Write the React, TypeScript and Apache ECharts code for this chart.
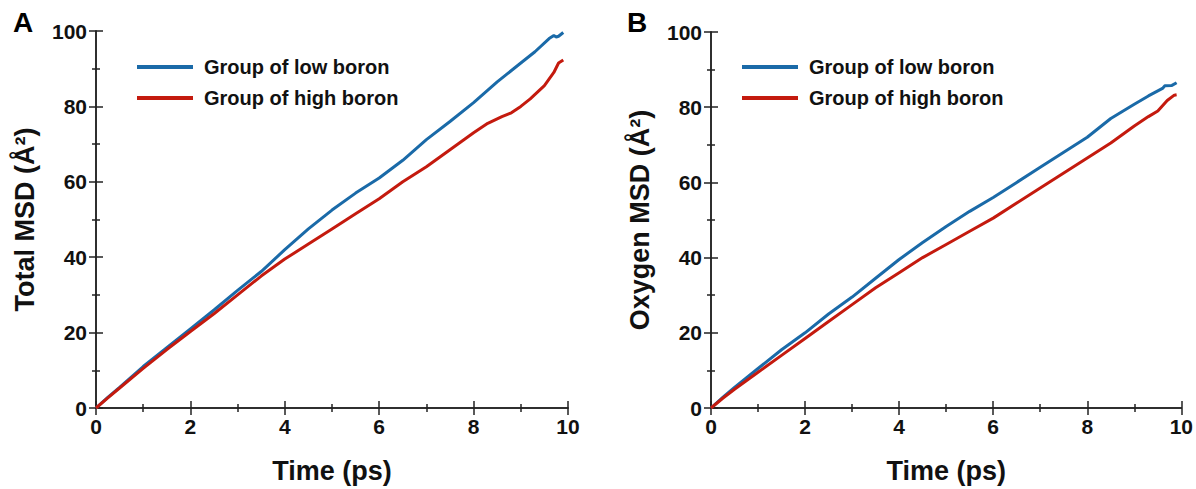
import React, { useEffect, useRef } from "react";
import * as echarts from "echarts";

const seriesNames = ["Group of low boron", "Group of high boron"];
const xTicks = [0, 2, 4, 6, 8, 10];
const yTicks = [0, 20, 40, 60, 80, 100];

// Panel A: Total MSD
const totalLow: [number, number][] = [
  [0, 0], [0.25, 2.8], [0.5, 5.5], [1, 11], [1.5, 16], [2, 21], [2.5, 26], [3, 31.2],
  [3.5, 36.2], [4, 42], [4.5, 47.5], [5, 52.5], [5.5, 57], [6, 61], [6.5, 65.7],
  [7, 71.2], [7.5, 76], [8, 81], [8.5, 86.5], [9, 91.5], [9.3, 94.5], [9.6, 98],
  [9.7, 98.8], [9.75, 98.4], [9.8, 98.6], [9.9, 99.6],
];
const totalHigh: [number, number][] = [
  [0, 0], [0.25, 2.7], [0.5, 5.3], [1, 10.5], [1.5, 15.5], [2, 20.3], [2.5, 25], [3, 30],
  [3.5, 35], [4, 39.5], [4.5, 43.5], [5, 47.5], [5.5, 51.5], [6, 55.5], [6.5, 60],
  [7, 64], [7.5, 68.5], [8, 73], [8.3, 75.5], [8.6, 77.3], [8.8, 78.3], [9, 80],
  [9.2, 82], [9.5, 85.5], [9.7, 89], [9.8, 91.5], [9.9, 92.3],
];

// Panel B: Oxygen MSD
const oxygenLow: [number, number][] = [
  [0, 0], [0.25, 2.8], [0.5, 5.5], [1, 10.5], [1.5, 15.5], [2, 20], [2.5, 25], [3, 29.5],
  [3.5, 34.5], [4, 39.5], [4.5, 44], [5, 48.3], [5.5, 52.3], [6, 56], [6.5, 60],
  [7, 64], [7.5, 68], [8, 72], [8.5, 77], [9, 80.8], [9.3, 83], [9.6, 85],
  [9.65, 85.7], [9.8, 85.8], [9.9, 86.5],
];
const oxygenHigh: [number, number][] = [
  [0, 0], [0.25, 2.6], [0.5, 5], [1, 9.5], [1.5, 14], [2, 18.5], [2.5, 23], [3, 27.5],
  [3.5, 32], [4, 36], [4.5, 40], [5, 43.5], [5.5, 47], [6, 50.5], [6.5, 54.5],
  [7, 58.5], [7.5, 62.5], [8, 66.5], [8.5, 70.5], [9, 75], [9.3, 77.5], [9.5, 79],
  [9.7, 81.8], [9.85, 83.2], [9.9, 83.3],
];

const panelLabels = ["A", "B"];
const yTitles = ["Total MSD (Å²)", "Oxygen MSD (Å²)"];
const xTitle = "Time (ps)";

const BLUE = "#1a6aa8";
const RED = "#c41a0e";
const AX = "#222";
const FONT = "Liberation Sans, Arial, sans-serif";

export default function App() {
  const ref = useRef<HTMLDivElement>(null);

  useEffect(() => {
    if (!ref.current) return;
    const chart = echarts.init(ref.current, null, { renderer: "svg" });

    const grids = [
      { left: 96, top: 31, width: 472, height: 381 },
      { left: 711, top: 32, width: 472, height: 381 },
    ];

    const axisLine = { show: true, lineStyle: { color: AX, width: 1.5 } };
    const tick = { show: true, inside: true, length: 7, lineStyle: { color: AX, width: 1.5 } };
    const minor = { show: true, splitNumber: 2, length: 4, lineStyle: { color: AX, width: 1.5 } };

    const xAxis: any[] = [];
    const yAxis: any[] = [];
    grids.forEach((_, i) => {
      xAxis.push({
        type: "value", gridIndex: i, position: "bottom", min: xTicks[0], max: xTicks[xTicks.length - 1],
        interval: 2, axisLine, axisTick: tick, minorTick: minor, splitLine: { show: false },
        axisLabel: { show: true, margin: 8, color: "#111", fontSize: 21, fontWeight: "bold", fontFamily: FONT },
        name: xTitle, nameLocation: "middle", nameGap: 49,
        nameTextStyle: { fontSize: 27, fontWeight: "bold", color: "#111", fontFamily: FONT },
      });
      xAxis.push({
        type: "value", gridIndex: i, position: "top", min: 0, max: 10, interval: 2,
        axisLine, axisTick: tick, minorTick: minor, splitLine: { show: false }, axisLabel: { show: false },
      });
      yAxis.push({
        type: "value", gridIndex: i, position: "left", min: yTicks[0], max: yTicks[yTicks.length - 1],
        interval: 20, axisLine, axisTick: tick, minorTick: minor, splitLine: { show: false },
        axisLabel: { show: true, margin: 9, color: "#111", fontSize: 21, fontWeight: "bold", fontFamily: FONT },
        name: yTitles[i], nameLocation: "middle", nameGap: 58, nameRotate: 90,
        nameTextStyle: { fontSize: 27, fontWeight: "bold", color: "#111", fontFamily: FONT },
      });
      yAxis.push({
        type: "value", gridIndex: i, position: "right", min: 0, max: 100, interval: 20,
        axisLine, axisTick: tick, minorTick: minor, splitLine: { show: false }, axisLabel: { show: false },
      });
    });

    const mk = (name: string, data: [number, number][], color: string, gi: number) => ({
      type: "line", name, data, xAxisIndex: gi * 2, yAxisIndex: gi * 2, showSymbol: false,
      symbol: "none", lineStyle: { color, width: 3 }, itemStyle: { color }, z: name === seriesNames[0] ? 2 : 3,
    });

    const legendBase = {
      orient: "vertical", icon: "rect", itemWidth: 56, itemHeight: 4, itemGap: 9,
      data: seriesNames,
      textStyle: { fontSize: 20, fontWeight: "bold", color: "#111", fontFamily: FONT, lineHeight: 22, padding: [0, 0, 0, 6] },
      selectedMode: false,
    };

    chart.setOption({
      animation: false,
      grid: grids,
      xAxis,
      yAxis,
      legend: [
        { ...legendBase, left: 132, top: 51 },
        { ...legendBase, left: 737, top: 51 },
      ],
      series: [
        mk(seriesNames[1], totalHigh, RED, 0),
        mk(seriesNames[0], totalLow, BLUE, 0),
        mk(seriesNames[1], oxygenHigh, RED, 1),
        mk(seriesNames[0], oxygenLow, BLUE, 1),
      ],
      graphic: [
        { type: "text", left: 13, top: 8, style: { text: panelLabels[0], fontSize: 28, fontWeight: "bold", fill: "#000", fontFamily: FONT } },
        { type: "text", left: 627, top: 8, style: { text: panelLabels[1], fontSize: 28, fontWeight: "bold", fill: "#000", fontFamily: FONT } },
      ],
    });

    return () => chart.dispose();
  }, []);

  return <div ref={ref} style={{ width: 1196, height: 489, position: "absolute", left: 0, top: 0, background: "#fff" }} />;
}
